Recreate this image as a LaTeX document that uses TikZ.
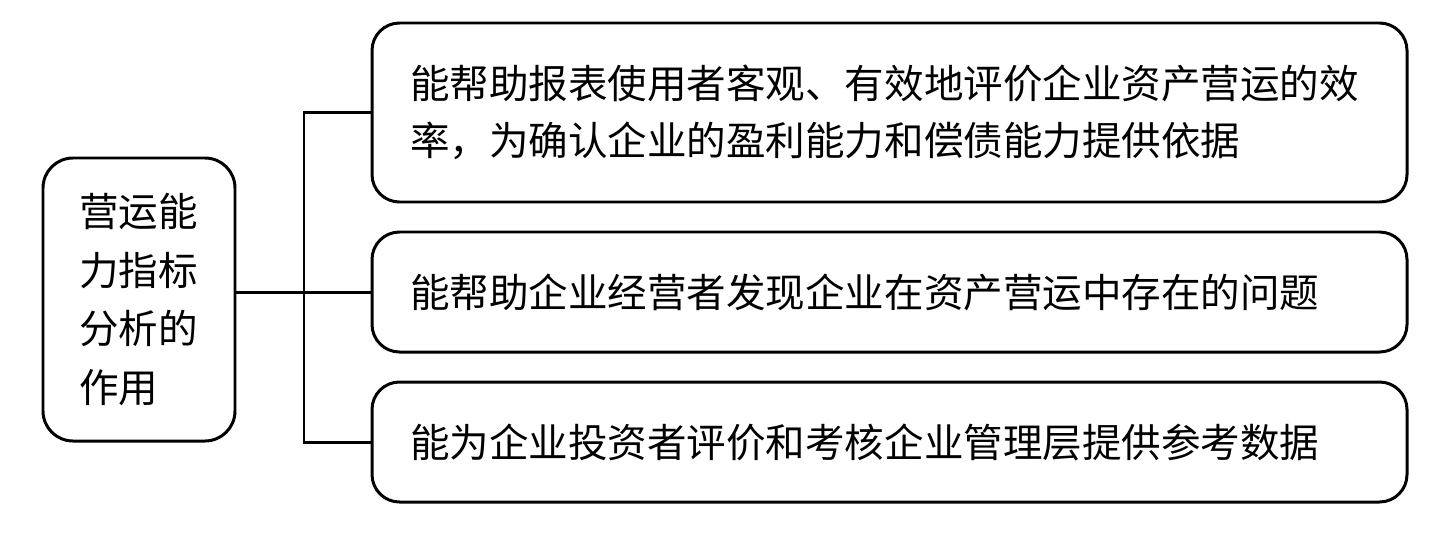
\documentclass[tikz,border=0pt]{standalone}
\usepackage{fontspec}
\setmainfont{Noto Sans CJK SC}
\usepackage{tikz}
\usetikzlibrary{positioning}

\tikzset{
  box/.style={draw,line width=1.7pt,rounded corners=.55cm,align=left,
    inner xsep=.76cm,inner ysep=0pt,text width=19.18cm,minimum width=20.7cm,
    font=\fontsize{22.5pt}{32.5pt}\selectfont},
  rootbox/.style={draw,line width=1.7pt,rounded corners=.6cm,align=left,
    inner xsep=.72cm,inner ysep=0pt,text width=2.4cm,minimum width=3.84cm,
    minimum height=5.66cm,font=\fontsize{22.5pt}{33.5pt}\selectfont},
  link/.style={line width=1.7pt}
}

\begin{document}
\begin{tikzpicture}

      \useasboundingbox (0,0) rectangle (29.08,10.84);

      % root
      \node (root) at (2.78,4.85) [rootbox] {营运能\\力指标\\分析的\\作用};

      % items
      \node (item1) at (17.79,8.59) [box,minimum height=3.58cm]
        {能帮助报表使用者客观、有效地评价企业资产营运的效\\率，为确认企业的盈利能力和偿债能力提供依据};
      \node (item2) at (17.79,5.0) [box,minimum height=2.4cm]
        {能帮助企业经营者发现企业在资产营运中存在的问题};
      \node (item3) at (17.79,2.0) [box,minimum height=2.4cm]
        {能为企业投资者评价和考核企业管理层提供参考数据};

      % links
      \path (6.08,5.0) coordinate (hub);
      \draw[link] (root.east |- hub) to (item2.west);
      \draw[link] (item1.west) -| (hub) to (hub |- item3.west) to (item3.west);

\end{tikzpicture}
\end{document}
